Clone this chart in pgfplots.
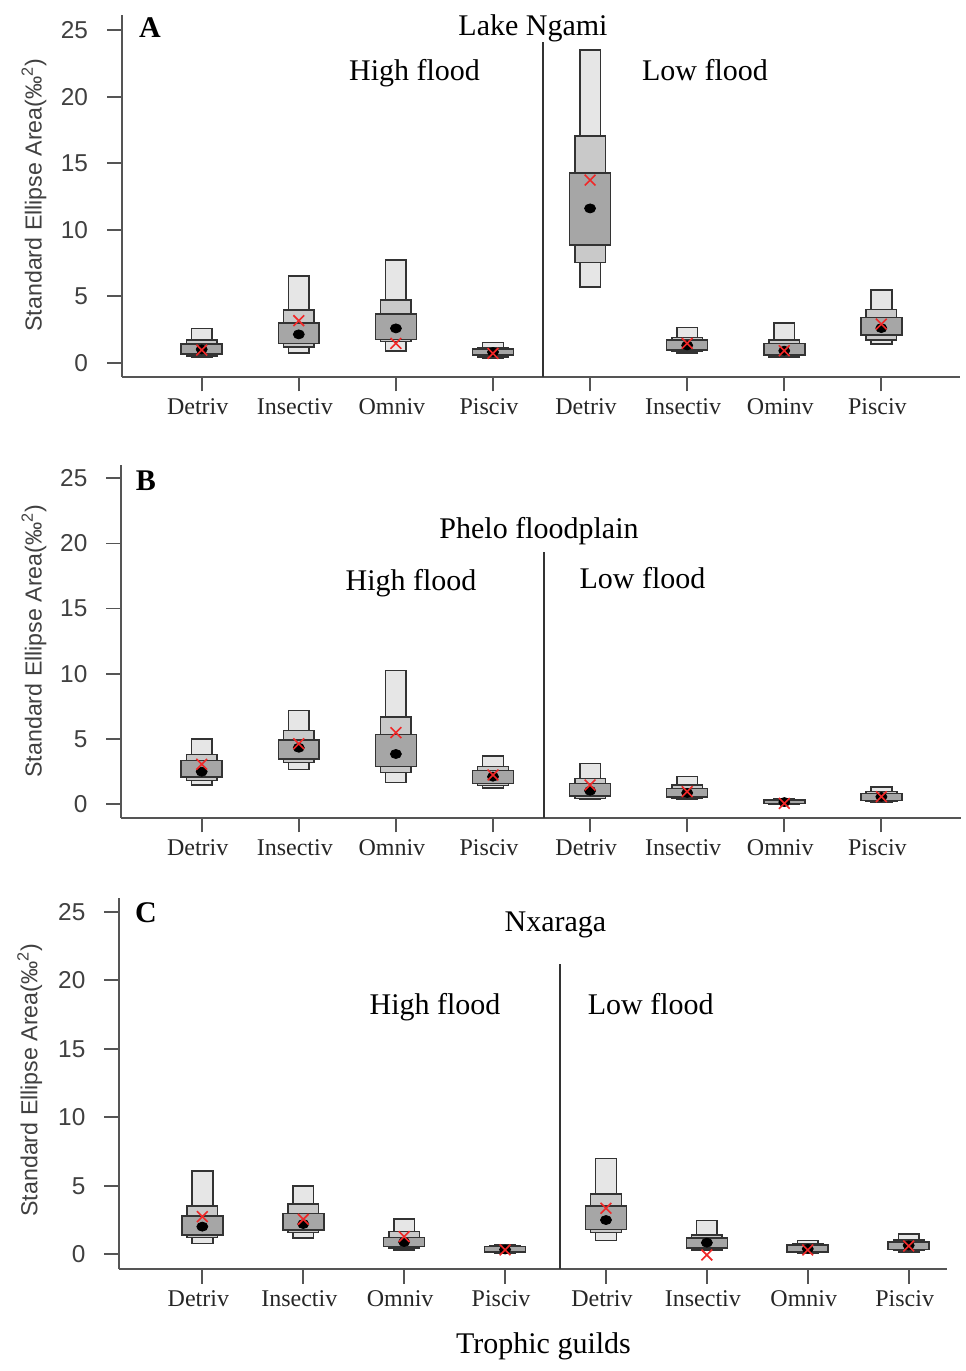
\documentclass[border=0pt]{standalone}
\usepackage{pgfplots}
\pgfplotsset{compat=1.18}
\usepackage{pgfplotstable}
\usepackage{fontspec}
\setmainfont{Liberation Serif}
\newfontfamily\arialfont{Liberation Sans}

\definecolor{c95}{HTML}{E6E6E6}
\definecolor{c75}{HTML}{C9C9C9}
\definecolor{c50}{HTML}{A6A6A6}
\definecolor{boxline}{HTML}{333333}
\definecolor{axisgray}{HTML}{555555}
\definecolor{labgray}{HTML}{404040}
\definecolor{seared}{HTML}{F02828}

% Lake Ngami
\pgfplotstableread{
x lo95 hi95 lo75 hi75 lo50 hi50 mode sea
1 0.40 2.58 0.50 1.70 0.65 1.40 1.00 0.95
2 0.75 6.51 1.20 3.96 1.45 3.00 2.13 3.16
3 0.88 7.72 1.58 4.71 1.75 3.66 2.58 1.45
4 0.33 1.53 0.45 1.15 0.58 1.03 0.80 0.70
5 5.71 23.50 7.52 17.03 8.84 14.28 11.60 13.73
6 0.75 2.66 0.83 1.90 0.95 1.70 1.30 1.45
7 0.38 3.00 0.45 1.70 0.58 1.45 0.90 0.90
8 1.40 5.46 1.70 4.00 2.08 3.40 2.60 2.90
}\tabA
% Phelo floodplain
\pgfplotstableread{
x lo95 hi95 lo75 hi75 lo50 hi50 mode sea
1 1.46 4.99 1.82 3.81 2.07 3.35 2.48 3.05
2 2.66 7.19 3.20 5.65 3.45 4.91 4.32 4.63
3 1.66 10.26 2.43 6.70 2.87 5.35 3.84 5.48
4 1.25 3.68 1.41 2.87 1.59 2.58 2.10 2.23
5 0.38 3.12 0.43 1.97 0.61 1.59 1.02 1.46
6 0.36 2.10 0.43 1.46 0.56 1.20 0.85 0.95
7 0.00 0.43 0.02 0.36 0.05 0.31 0.15 0.05
8 0.13 1.33 0.18 0.95 0.26 0.82 0.55 0.56
}\tabB
% Nxaraga
\pgfplotstableread{
x lo95 hi95 lo75 hi75 lo50 hi50 mode sea
1 0.80 6.08 1.22 3.53 1.41 2.80 2.02 2.75
2 1.17 4.99 1.60 3.65 1.78 2.99 2.21 2.55
3 0.32 2.58 0.44 1.65 0.56 1.22 0.90 1.29
4 0.10 0.73 0.15 0.63 0.19 0.56 0.35 0.32
5 1.00 7.00 1.58 4.38 1.82 3.53 2.50 3.36
6 0.27 2.46 0.32 1.41 0.44 1.17 0.85 -0.05
7 0.07 1.00 0.12 0.80 0.19 0.68 0.40 0.32
8 0.19 1.48 0.27 1.05 0.36 0.92 0.65 0.61
}\tabC

% one credible-interval box: #1 table, #2 row, #3 low col, #4 high col, #5 half width, #6 colour
\newcommand{\sbrect}[6]{%
  \pgfplotstablegetelem{#2}{x}\of{#1}\let\sbx\pgfplotsretval
  \pgfplotstablegetelem{#2}{#3}\of{#1}\let\sblo\pgfplotsretval
  \pgfplotstablegetelem{#2}{#4}\of{#1}\let\sbhi\pgfplotsretval
  \pgfmathsetmacro\sbxa{\sbx-#5}%
  \pgfmathsetmacro\sbxb{\sbx+#5}%
  \edef\sbcmd{\noexpand\addplot[fill=#6, draw=boxline, line width=0.8pt] coordinates {(\sbxa,\sblo) (\sbxb,\sblo) (\sbxb,\sbhi) (\sbxa,\sbhi)} -- cycle;}%
  \sbcmd
}
% all boxes of a panel: #1 table, #2-#4 half widths
\newcommand{\siber}[4]{%
  \pgfplotsinvokeforeach{0,...,7}{%
    \sbrect{#1}{##1}{lo95}{hi95}{#2}{c95}%
    \sbrect{#1}{##1}{lo75}{hi75}{#3}{c75}%
    \sbrect{#1}{##1}{lo50}{hi50}{#4}{c50}%
  }%
  \addplot[only marks, mark=*, mark size=2.5pt, black, mark options={xscale=1.1, yscale=0.9}] table[x=x, y=mode] {#1};
  \addplot[only marks, mark=x, mark size=3.8pt, seared, line width=0.8pt] table[x=x, y=sea] {#1};
}

\pgfplotsset{
  sib/.style={
    scale only axis, clip=false,
    axis x line*=bottom, axis y line*=left,
    axis line style={-, draw=axisgray, line width=0.9pt},
    tick align=outside, major tick length=7.3pt,
    tick style={draw=axisgray, line width=0.9pt},
    ytick={0,5,10,15,20,25},
    xtick={1,2,3,4,5,6,7,8},
    /pgf/number format/assume math mode=true,
    yticklabel style={font=\arialfont\fontsize{12.2}{14}\selectfont, text=labgray, xshift=-6pt},
    xticklabel style={font=\fontsize{12}{14}\selectfont, text=black!85, xshift=-2pt},
  }
}

\begin{document}
\begin{tikzpicture}
\useasboundingbox (0,0) rectangle (482.5pt,-685.5pt);

\begin{axis}[sib, at={(60.85pt,-188.35pt)}, anchor=south west,
  width=419.15pt, height=180.85pt,
  xmin=0.176, xmax=8.81, ymin=-1.053, ymax=26.14,
  xticklabels={Detriv,Insectiv,Omniv,Pisciv,Detriv,Insectiv,Ominv,Pisciv}]
\siber{\tabA}{0.1066}{0.158}{0.211}
\addplot[draw=boxline, line width=0.7pt] coordinates {(4.515,-1.053) (4.515,24.1)};
\end{axis}

\begin{axis}[sib, at={(60.5pt,-408.85pt)}, anchor=south west,
  width=420pt, height=176.35pt,
  xmin=0.169, xmax=8.82, ymin=-1.05, ymax=26.02,
  xticklabels={Detriv,Insectiv,Omniv,Pisciv,Detriv,Insectiv,Omniv,Pisciv}]
\siber{\tabB}{0.1066}{0.158}{0.211}
\addplot[draw=boxline, line width=0.7pt] coordinates {(4.525,-1.05) (4.525,19.36)};
\end{axis}

\begin{axis}[sib, at={(59.5pt,-634.5pt)}, anchor=south west,
  width=413.85pt, height=185.5pt,
  xmin=0.174, xmax=8.377, ymin=-1.073, ymax=26.0,
  xticklabels={Detriv,Insectiv,Omniv,Pisciv,Detriv,Insectiv,Omniv,Pisciv}]
\siber{\tabC}{0.1026}{0.152}{0.203}
\addplot[draw=boxline, line width=0.7pt] coordinates {(4.545,-1.073) (4.545,21.2)};
\end{axis}

\begin{scope}[x=0.5pt, y=-0.5pt]
\tikzset{tt/.style={anchor=base, font=\fontsize{15}{18}\selectfont},
         pl/.style={anchor=base, font=\bfseries\fontsize{15}{18}\selectfont},
         yl/.style={anchor=base, rotate=90, text=labgray, font=\arialfont\fontsize{11.6}{13}\selectfont}}
\node[pl] at (150,37) {A};
\node[tt] at (533,35) {Lake Ngami};
\node[tt] at (414.5,80) {High flood};
\node[tt] at (705,80) {Low flood};
\node[pl] at (146,490) {B};
\node[tt] at (539,538) {Phelo floodplain};
\node[tt] at (411,590) {High flood};
\node[tt] at (642.5,588.3) {Low flood};
\node[pl] at (146,922) {C};
\node[tt] at (555.5,931.7) {Nxaraga};
\node[tt] at (435,1014) {High flood};
\node[tt] at (650.7,1014) {Low flood};
\node[tt] at (543.5,1353) {Trophic guilds};
\node[yl] at (41.7,195) {Standard Ellipse Area(‰\textsuperscript{2})};
\node[yl] at (41.5,641) {Standard Ellipse Area(‰\textsuperscript{2})};
\node[yl] at (37.3,1080) {Standard Ellipse Area(‰\textsuperscript{2})};
\end{scope}
\end{tikzpicture}
\end{document}
